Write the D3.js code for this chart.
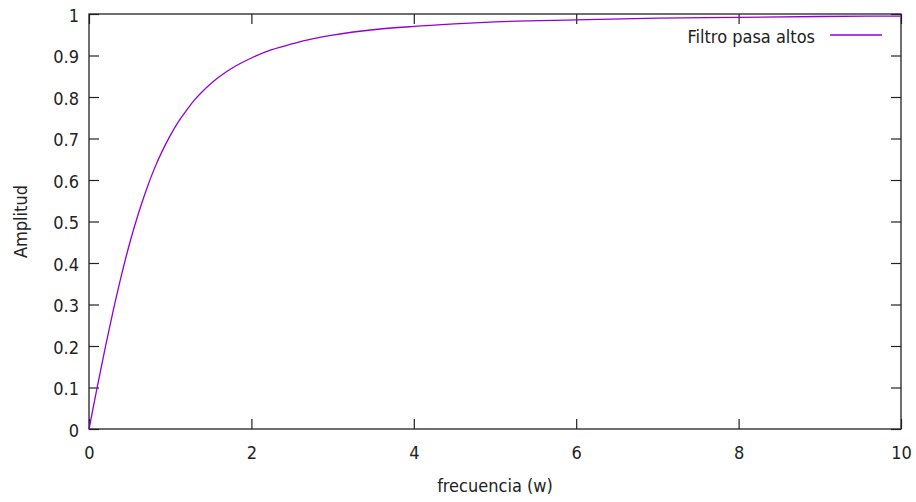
<!DOCTYPE html>
<html>
<head>
<meta charset="utf-8">
<script src="https://cdn.jsdelivr.net/npm/d3@7"></script>
<style>
  html, body { margin: 0; padding: 0; background: #fff; }
  svg { display: block; }
  text { font-family: "DejaVu Sans Condensed", "DejaVu Sans", sans-serif; font-stretch: condensed; fill: #222; }
</style>
</head>
<body>
<svg id="chart" width="916" height="502"></svg>
<script>
// ---- data ----
const frequency = [0, 0.1, 0.2, 0.3, 0.4, 0.5, 0.6, 0.7, 0.8, 0.9, 1.0, 1.1, 1.2, 1.3, 1.4, 1.5, 1.6, 1.8, 2.0, 2.25, 2.5, 2.75, 3.0, 3.5, 4.0, 4.5, 5.0, 6.0, 7.0, 8.0, 9.0, 10.0];
const amplitude = [0, 0.0995, 0.196, 0.287, 0.371, 0.447, 0.514, 0.573, 0.625, 0.669, 0.707, 0.740, 0.768, 0.793, 0.814, 0.832, 0.848, 0.874, 0.894, 0.914, 0.928, 0.940, 0.949, 0.962, 0.970, 0.976, 0.981, 0.986, 0.990, 0.992, 0.994, 0.995];
const seriesName = "Filtro pasa altos";
const xTicks = [0, 2, 4, 6, 8, 10];
const xTickLabels = ["0", "2", "4", "6", "8", "10"];
const yTicks = [0, 0.1, 0.2, 0.3, 0.4, 0.5, 0.6, 0.7, 0.8, 0.9, 1];
const yTickLabels = ["0", "0.1", "0.2", "0.3", "0.4", "0.5", "0.6", "0.7", "0.8", "0.9", "1"];
const xTitle = "frecuencia (w)";
const yTitle = "Amplitud";

// ---- layout ----
const L = 89, R = 901, T = 14, B = 429;
const fontSize = 18;
const lineColor = "#9400d3";
const axisColor = "#222";

const svg = d3.select("#chart");
svg.append("rect").attr("width", 916).attr("height", 502).attr("fill", "#fff");

const x = d3.scaleLinear().domain([0, 10]).range([L, R]);
const y = d3.scaleLinear().domain([0, 1]).range([B, T]);

function styleAxis(g) {
  g.select(".domain").remove();
  g.selectAll(".tick line").attr("stroke", axisColor).attr("stroke-width", 1.2);
  g.selectAll("text").attr("font-size", fontSize).attr("fill", axisColor)
    .style("font-family", '"DejaVu Sans Condensed", "DejaVu Sans", sans-serif');
}

// bottom axis
const gx = svg.append("g").attr("transform", `translate(0,${B})`)
  .call(d3.axisBottom(x).tickValues(xTicks).tickSize(-10).tickFormat((d, i) => xTickLabels[i]));
styleAxis(gx);
gx.selectAll("text").attr("y", 30).attr("dy", 0);

// top axis (mirror)
const gxt = svg.append("g").attr("transform", `translate(0,${T})`)
  .call(d3.axisTop(x).tickValues(xTicks).tickSize(-10).tickFormat(""));
styleAxis(gxt);

// left axis
const gy = svg.append("g").attr("transform", `translate(${L},0)`)
  .call(d3.axisLeft(y).tickValues(yTicks).tickSize(-10).tickFormat((d, i) => yTickLabels[i]));
styleAxis(gy);
gy.selectAll("text").attr("x", -10).attr("dy", "0.4em");

// right axis (mirror)
const gyr = svg.append("g").attr("transform", `translate(${R},0)`)
  .call(d3.axisRight(y).tickValues(yTicks).tickSize(-10).tickFormat(""));
styleAxis(gyr);

// border
svg.append("rect").attr("x", L).attr("y", T).attr("width", R - L).attr("height", B - T)
  .attr("fill", "none").attr("stroke", axisColor).attr("stroke-width", 1.3);

// curve
const line = d3.line().x((d, i) => x(frequency[i])).y(d => y(d)).curve(d3.curveMonotoneX);
svg.append("path").datum(amplitude).attr("d", line)
  .attr("fill", "none").attr("stroke", lineColor).attr("stroke-width", 1.3);

// legend
svg.append("text").attr("x", 815).attr("y", 42.5).attr("text-anchor", "end")
  .attr("font-size", fontSize).text(seriesName);
svg.append("line").attr("x1", 830).attr("x2", 882).attr("y1", 35).attr("y2", 35)
  .attr("stroke", lineColor).attr("stroke-width", 1.3);

// axis titles
svg.append("text").attr("x", (L + R) / 2).attr("y", 492).attr("text-anchor", "middle")
  .attr("font-size", fontSize).text(xTitle);
svg.append("text").attr("transform", `translate(27,${(T + B) / 2}) rotate(-90)`)
  .attr("text-anchor", "middle").attr("font-size", fontSize).text(yTitle);
</script>
</body>
</html>
